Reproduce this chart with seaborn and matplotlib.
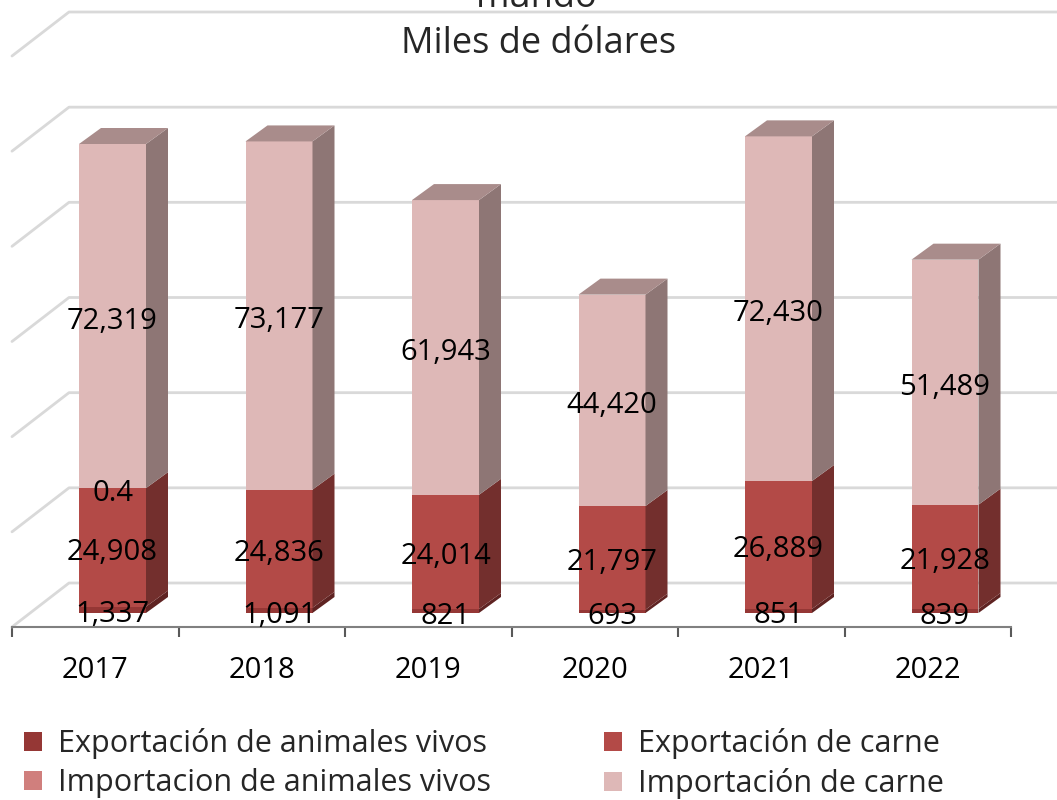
import numpy as np
import matplotlib.pyplot as plt
import seaborn as sns
from matplotlib.patches import Polygon, Patch
from matplotlib.colors import to_rgb

# Data (miles de dólares)
years = ["2017", "2018", "2019", "2020", "2021", "2022"]
exp_vivos = [1337, 1091, 821, 693, 851, 839]
exp_carne = [24908, 24836, 24014, 21797, 26889, 21928]
imp_vivos = [0.4, np.nan, np.nan, np.nan, np.nan, np.nan]
imp_carne = [72319, 73177, 61943, 44420, 72430, 51489]

names = ["Exportación de animales vivos", "Exportación de carne",
         "Importacion de animales vivos", "Importación de carne"]
colors = ["#953735", "#B34A47", "#D07F7D", "#DEB8B7"]

sns.set_theme(style="white")
plt.rcParams["font.family"] = ["Open Sans", "DejaVu Sans"]

W, H = 1057, 800
fig = plt.figure(figsize=(W / 100, H / 100), dpi=100)
# axes in pixel terms: x 12..1011, y 0..627 (bottom axis line)
ax = fig.add_axes([12 / W, 1 - 627 / H, 999 / W, 627 / H])

px_x = 999 / 6            # px per category
px_y = 469 / 98564        # px per unit value
base = 613                # pixel row of the bars' front base
ax.set_xlim(-0.5, 5.5)
ax.set_ylim(-(627 - base) / px_y, base / px_y)

def ox(p):
    return p / px_x

def oy(p):
    return p / px_y

# back wall grid (3D look)
for v in range(0, 120001, 20000):
    yb = v + oy(30)
    yf = v - oy(14)
    ax.plot([-0.5, -0.5 + ox(57), 5.5 + ox(50)], [yf, yb, yb],
            color="#d9d9d9", lw=2, clip_on=False, zorder=1)

# bars
bar_left = ox(79 - 12) - 0.5
bar_w = ox(67)
xpos = np.arange(len(years)) + bar_left + bar_w / 2
depth_x, depth_y = ox(22), oy(16)

def shade(c, f):
    r, g, b = to_rgb(c)
    return (r * f, g * f, b * f)

bottom = np.zeros(len(years))
series = [exp_vivos, exp_carne, imp_vivos, imp_carne]
segments = []
for vals, col in zip(series, colors):
    vals = np.array(vals, dtype=float)
    ok = ~np.isnan(vals)
    n_before = len(ax.containers)
    sns.barplot(x=xpos[ok], y=vals[ok], native_scale=True, width=bar_w,
                bottom=bottom[ok], color=col, saturation=1, errorbar=None,
                ax=ax, linewidth=0, zorder=3)
    cont = ax.containers[n_before]
    for p, v in zip(cont.patches, vals[ok]):
        x, y, w, h = p.get_x(), p.get_y(), p.get_width(), p.get_height()
        side = [(x + w, y), (x + w + depth_x, y + depth_y),
                (x + w + depth_x, y + h + depth_y), (x + w, y + h)]
        ax.add_patch(Polygon(side, closed=True, facecolor=shade(col, 0.64),
                             edgecolor="none", zorder=3))
        segments.append((x + w / 2, y + h / 2, v))
    bottom = bottom + np.nan_to_num(vals)

# top faces
top_col = shade(colors[3], 0.76)
for p in ax.containers[-1].patches:
    x, y, w, h = p.get_x(), p.get_y(), p.get_width(), p.get_height()
    t = y + h
    face = [(x, t), (x + depth_x, t + depth_y), (x + w + depth_x, t + depth_y), (x + w, t)]
    ax.add_patch(Polygon(face, closed=True, facecolor=top_col,
                         edgecolor="none", zorder=3))

# value labels
for cx, cy, v in segments:
    txt = f"{v:.1f}" if v < 1 else f"{v:,.0f}"
    ax.text(cx, cy - oy(5), txt, ha="center", va="center", fontsize=21,
            color="black", zorder=5)

# axes styling
ax.set_xlim(-0.5, 5.5)
ax.set_ylim(-(627 - base) / px_y, base / px_y)
ax.set_yticks([])
ax.set_xticks(range(len(years)))
ax.set_xticklabels(years, fontsize=21)
ax.set_xticks(np.arange(-0.5, 6, 1), minor=True)
ax.tick_params(axis="x", which="major", length=0, pad=21, colors="black")
ax.tick_params(axis="x", which="minor", length=7.5, width=1.5,
               direction="out", color="#595959", bottom=True)
for s in ["left", "top", "right"]:
    ax.spines[s].set_visible(False)
ax.spines["bottom"].set_color("#808080")
ax.spines["bottom"].set_linewidth(1.5)
ax.set_xlabel("")
ax.set_ylabel("")
ax.patch.set_alpha(0)

# title (upper line is cut by the figure edge, as in the source)
fig.text(537 / W, 1 - 7 / H, "mundo", ha="center", va="baseline", fontsize=26)
fig.text(539 / W, 1 - 53 / H, "Miles de dólares", ha="center", va="baseline", fontsize=26)

# legend in two columns
handles = [Patch(facecolor=c, edgecolor="none") for c in colors]
for xl, idxs in [(24, [0, 2]), (604, [1, 3])]:
    fig.legend([handles[i] for i in idxs], [names[i] for i in idxs],
               loc="upper left", bbox_to_anchor=(xl / W, 1 - 728 / H),
               frameon=False, fontsize=22, handlelength=0.6, handleheight=0.6,
               handletextpad=0.5, labelspacing=0.3, borderpad=0,
               borderaxespad=0)

fig.savefig("out.png", dpi=100)
